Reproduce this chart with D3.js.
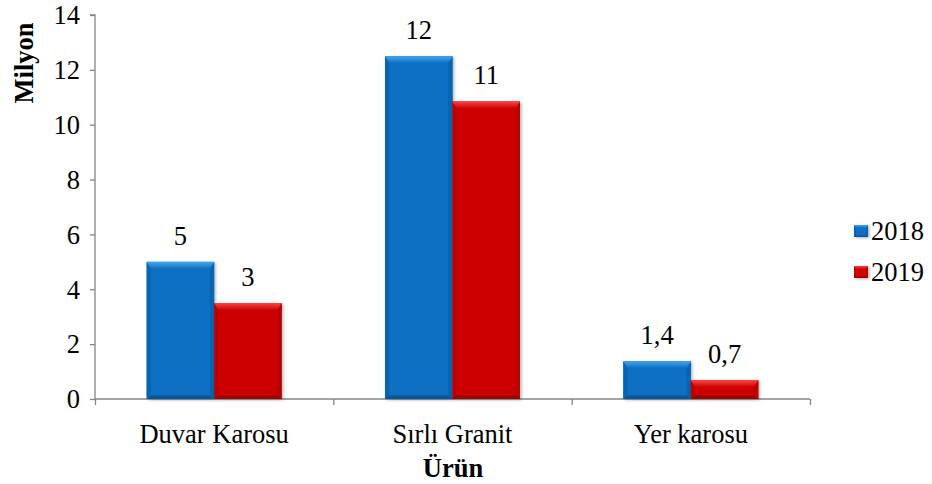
<!DOCTYPE html>
<html>
<head>
<meta charset="utf-8">
<script src="https://cdn.jsdelivr.net/npm/d3@7"></script>
<style>
body { margin: 0; background: #fff; }
</style>
</head>
<body>
<svg width="932" height="484"></svg>
<script>
var categories = ["Duvar Karosu", "Sırlı Granit", "Yer karosu"];
var years = ["2018", "2019"];
var values2018 = [5.0, 12.5, 1.38];
var values2019 = [3.5, 10.85, 0.69];
var labels2018 = ["5", "12", "1,4"];
var labels2019 = ["3", "11", "0,7"];
var yTicks = [0, 2, 4, 6, 8, 10, 12, 14];

var SERIF = "Liberation Serif";
var FS = "26.5px";

var colors = {
	"2018": { main: "#0a70c2", top: "#4aa6ea", side: "#0863b0", bottom: "#05508f" },
	"2019": { main: "#cc0404", top: "#fa4545", side: "#b80303", bottom: "#8e0202" }
};

var svg = d3.select("svg");
var plotL = 95, plotR = 810, plotT = 15, plotB = 399;

var y = d3.scaleLinear().domain([0, 14]).range([plotB, plotT]);
var x = d3.scaleBand().domain(categories).range([plotL, plotR]).paddingInner(0).paddingOuter(0);
var xEdge = d3.scaleLinear().domain([0, 3]).range([plotL, plotR]);
var barW = 67.5;

var rows = [];
categories.forEach(function (c, i) {
	rows.push({ cat: c, year: "2018", v: values2018[i], label: labels2018[i], k: 0 });
	rows.push({ cat: c, year: "2019", v: values2019[i], label: labels2019[i], k: 1 });
});

// axes
var yAxis = d3.axisLeft(y).tickValues(yTicks).tickSize(5).tickPadding(10);
var yg = svg.append("g").attr("transform", "translate(" + plotL + ",0)").call(yAxis);
yg.select(".domain").attr("stroke", "#868686").attr("stroke-width", 1.3).attr("d", "M-5," + plotT + "H0V" + plotB);
yg.selectAll(".tick line").attr("stroke", "#868686").attr("stroke-width", 1.3);
yg.selectAll(".tick text").style("font-size", FS).attr("fill", "#000")
	.style("font-family", SERIF).attr("dy", "0.33em");

var xAxis = d3.axisBottom(xEdge).tickValues([0, 1, 2, 3]).tickSize(6).tickFormat("");
var xg = svg.append("g").attr("transform", "translate(0," + plotB + ")").call(xAxis);
xg.select(".domain").attr("stroke", "#868686").attr("stroke-width", 1.3).attr("d", "M" + plotL + ",0H" + plotR);
xg.selectAll(".tick line").attr("stroke", "#868686").attr("stroke-width", 1.3);

svg.selectAll(".cat").data(categories).enter().append("text")
	.attr("x", d => x(d) + x.bandwidth() / 2)
	.attr("y", 443)
	.attr("text-anchor", "middle")
	.style("font-family", SERIF).style("font-size", FS)
	.text(d => d);

svg.append("text").attr("x", 453).attr("y", 477).attr("text-anchor", "middle")
	.style("font-family", SERIF).style("font-size", FS).attr("font-weight", "bold").text("Ürün");
svg.append("text").attr("transform", "translate(33,63) rotate(-90)").attr("text-anchor", "middle")
	.style("font-family", SERIF).style("font-size", FS).attr("font-weight", "bold").text("Milyon");

// shadow + gradients
var defs = svg.append("defs");
var f = defs.append("filter").attr("id", "sh").attr("x", "-20%").attr("y", "-20%").attr("width", "140%").attr("height", "140%");
f.append("feDropShadow").attr("dx", 1.5).attr("dy", 1).attr("stdDeviation", 1.5).attr("flood-opacity", 0.3);
years.forEach(function (yr) {
	var lgr = defs.append("linearGradient").attr("id", "top" + yr).attr("x1", 0).attr("y1", 0).attr("x2", 0).attr("y2", 1);
	lgr.append("stop").attr("offset", 0).attr("stop-color", colors[yr].top);
	lgr.append("stop").attr("offset", 1).attr("stop-color", colors[yr].main);
});

function bevel(g, x0, y0, w, h, yr, b) {
	var c = colors[yr];
	var bt = Math.min(b, h / 2), bs = Math.min(b * 0.6, w / 2), bb = Math.min(b * 0.5, h / 2);
	var x1 = x0 + w, y1 = y0 + h;
	g.append("rect").attr("x", x0).attr("y", y0).attr("width", w).attr("height", h).attr("fill", c.main).attr("filter", "url(#sh)");
	g.append("path").attr("fill", c.side)
		.attr("d", "M" + x0 + "," + y0 + "L" + (x0 + bs) + "," + (y0 + bt) + "V" + (y1 - bb) + "L" + x0 + "," + y1 + "Z");
	g.append("path").attr("fill", c.side)
		.attr("d", "M" + x1 + "," + y0 + "L" + (x1 - bs) + "," + (y0 + bt) + "V" + (y1 - bb) + "L" + x1 + "," + y1 + "Z");
	g.append("path").attr("fill", c.bottom).attr("opacity", 0.8)
		.attr("d", "M" + x0 + "," + y1 + "L" + (x0 + bs) + "," + (y1 - bb) + "H" + (x1 - bs) + "L" + x1 + "," + y1 + "Z");
	g.append("path").attr("fill", "url(#top" + yr + ")")
		.attr("d", "M" + x0 + "," + y0 + "H" + x1 + "L" + (x1 - bs) + "," + (y0 + bt) + "H" + (x0 + bs) + "Z");
}

var bars = svg.append("g");
rows.forEach(function (d) {
	var cx = x(d.cat) + x.bandwidth() / 2;
	var bx = cx - barW + d.k * barW;
	bevel(bars.append("g"), bx, y(d.v), barW, y(0) - y(d.v), d.year, 7);
});
rows.forEach(function (d) {
	var cx = x(d.cat) + x.bandwidth() / 2;
	var bx = cx - barW + d.k * barW;
	svg.append("text")
		.attr("x", bx + barW / 2)
		.attr("y", y(d.v) - 17)
		.attr("text-anchor", "middle")
		.style("font-family", SERIF).style("font-size", FS)
		.text(d.label);
});

// legend
var lg = svg.append("g");
years.forEach(function (yr, i) {
	var gy = 231 + i * 41;
	bevel(lg.append("g"), 854, gy - 6, 14, 12, yr, 3);
	lg.append("text").attr("x", 871).attr("y", gy + 9)
		.style("font-family", SERIF).style("font-size", FS).text(yr);
});
</script>
</body>
</html>
